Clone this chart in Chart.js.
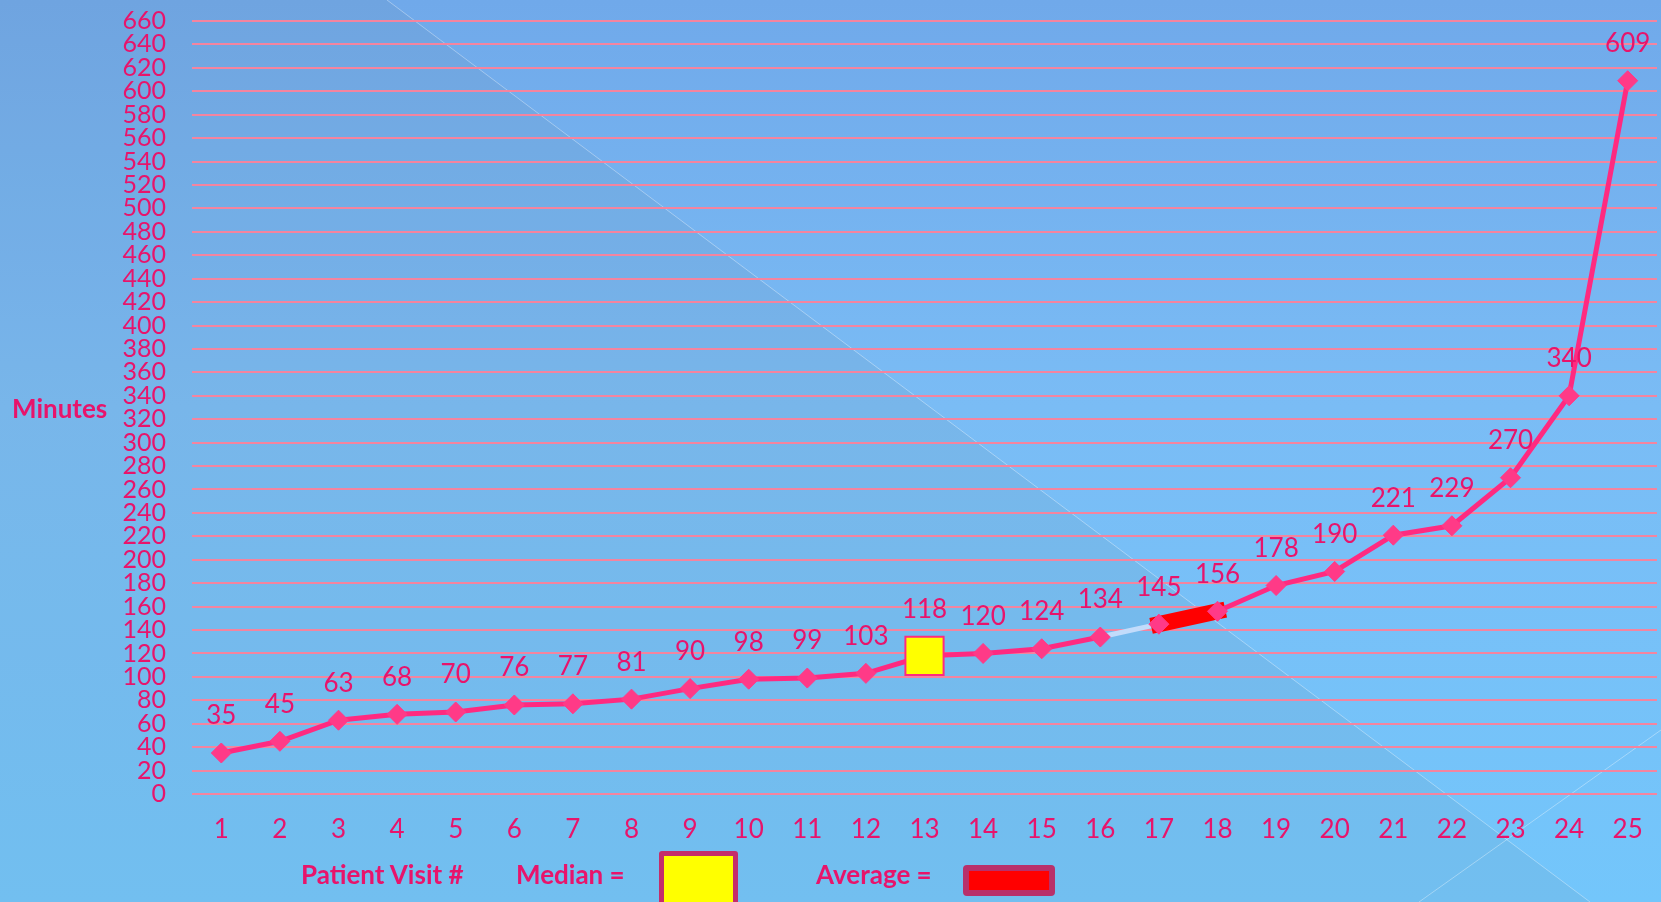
<!DOCTYPE html>
<html>
<head>
<meta charset="utf-8">
<script src="https://cdn.jsdelivr.net/npm/chart.js@4.4.0/dist/chart.umd.min.js"></script>
<style>
  html, body { margin: 0; padding: 0; width: 1661px; height: 902px; overflow: hidden; }
  #wrap { position: relative; width: 1661px; height: 902px; }
  #chart { position: absolute; left: 0; top: 0; }
  .lbl { position: absolute; font-family: Lato, sans-serif; font-weight: 700; font-size: 26px;
         color: #e8146b; white-space: nowrap; line-height: 26px; }
  .box { position: absolute; box-sizing: border-box; }
</style>
</head>
<body>
<div id="wrap">
  <canvas id="chart" width="1661" height="902"></canvas>
  <div class="lbl" style="left:12px; top:395px;">Minutes</div>
  <div class="lbl" style="left:301px; top:861px;">Patient Visit #</div>
  <div class="lbl" style="left:516px; top:861px;">Median =</div>
  <div class="box" style="left:659px; top:851px; width:79px; height:60px; background:#ffff00; border:5px solid #c42d6b; border-radius:3px;"></div>
  <div class="lbl" style="left:816px; top:861px;">Average =</div>
  <div class="box" style="left:963px; top:865px; width:92px; height:31px; background:#ff0000; border:6px solid #b8306a; border-radius:4px;"></div>
</div>
<script>
// patient visit numbers and wait times (minutes), sorted
const visits = ['1', '2', '3', '4', '5', '6', '7', '8', '9', '10', '11', '12', '13',
                '14', '15', '16', '17', '18', '19', '20', '21', '22', '23', '24', '25'];
const minutes = [35, 45, 63, 68, 70, 76, 77, 81, 90, 98, 99, 103, 118,
                 120, 124, 134, 145, 156, 178, 190, 221, 229, 270, 340, 609];
const yMin = 0;
const yMax = 660;
const yStep = 20;
const medianIndex = 12;   // visit 13
const averageFrom = 16;   // average falls between visit 17 and 18

const pink = '#ff2a80';
const labelPink = '#e8146b';

// background with the soft diagonal shading
const backgroundPlugin = {
    id: 'background',
    beforeDraw(chart) {
        const { ctx, width, height } = chart;
        ctx.save();
        const g = ctx.createLinearGradient(0, 0, 0, height);
        g.addColorStop(0, '#70a9ea');
        g.addColorStop(0.45, '#7abcf5');
        g.addColorStop(1, '#73c6fb');
        ctx.fillStyle = g;
        ctx.fillRect(0, 0, width, height);

        ctx.beginPath();
        ctx.moveTo(0, 0);
        ctx.lineTo(387, 0);
        ctx.lineTo(1590, height);
        ctx.lineTo(0, height);
        ctx.closePath();
        ctx.fillStyle = 'rgba(105,120,110,0.08)';
        ctx.fill();

        ctx.strokeStyle = 'rgba(255,255,255,0.35)';
        ctx.lineWidth = 1;
        ctx.beginPath();
        ctx.moveTo(387, 0);
        ctx.lineTo(1590, height);
        ctx.moveTo(1419, height);
        ctx.lineTo(width, 730);
        ctx.stroke();
        ctx.restore();
    }
};

// value labels above every point
const valueLabels = {
    id: 'valueLabels',
    afterDatasetsDraw(chart) {
        const ctx = chart.ctx;
        const meta = chart.getDatasetMeta(0);
        ctx.save();
        ctx.font = '26px Lato, sans-serif';
        ctx.fillStyle = labelPink;
        ctx.textAlign = 'center';
        ctx.textBaseline = 'middle';
        meta.data.forEach((pt, i) => {
            const off = i === medianIndex ? 46 : 37;
            ctx.fillText(String(minutes[i]), pt.x, pt.y - off);
        });
        ctx.restore();
    }
};

const ctx = document.getElementById('chart').getContext('2d');
new Chart(ctx, {
    type: 'line',
    data: {
        labels: visits,
        datasets: [{
            data: minutes,
            borderColor: pink,
            borderWidth: 5,
            tension: 0,
            fill: false,
            pointStyle: minutes.map((v, i) => i === medianIndex ? 'rect' : 'rectRot'),
            pointRadius: minutes.map((v, i) => i === medianIndex ? 27 : 10),
            pointBackgroundColor: minutes.map((v, i) => i === medianIndex ? '#ffff00' : '#ff3a87'),
            pointBorderColor: minutes.map((v, i) => i === medianIndex ? '#ff2a80' : '#ff3a87'),
            pointBorderWidth: minutes.map((v, i) => i === medianIndex ? 2 : 1),
            segment: {
                borderColor: c => c.p0DataIndex === averageFrom ? '#ff0000'
                    : (c.p0DataIndex === averageFrom - 1 ? '#c2dcfb' : undefined),
                borderWidth: c => c.p0DataIndex === averageFrom ? 16 : undefined,
                borderCapStyle: c => c.p0DataIndex === averageFrom ? 'square' : undefined
            }
        }]
    },
    options: {
        responsive: false,
        animation: false,
        events: [],
        layout: { autoPadding: false, padding: { top: 21, right: 4, left: 0, bottom: 0 } },
        scales: {
            x: {
                offset: true,
                grid: { display: false, drawTicks: false },
                border: { display: false },
                ticks: {
                    color: labelPink,
                    padding: 20,
                    maxRotation: 0,
                    autoSkip: false,
                    font: { family: 'Lato, sans-serif', size: 26 }
                },
                afterFit: s => {
                    s.height = 108;
                    s.paddingLeft = 0;
                    s.paddingRight = 0;
                }
            },
            y: {
                min: yMin,
                max: yMax,
                grid: { color: '#f4849f', lineWidth: 2, drawTicks: false },
                border: { display: false },
                ticks: {
                    stepSize: yStep,
                    autoSkip: false,
                    color: labelPink,
                    padding: 26,
                    font: { family: 'Lato, sans-serif', size: 25 }
                },
                afterFit: s => {
                    s.width = 192;
                    s.paddingTop = 0;
                    s.paddingBottom = 0;
                }
            }
        },
        plugins: {
            legend: { display: false },
            tooltip: { enabled: false }
        }
    },
    plugins: [backgroundPlugin, valueLabels]
});
</script>
</body>
</html>
